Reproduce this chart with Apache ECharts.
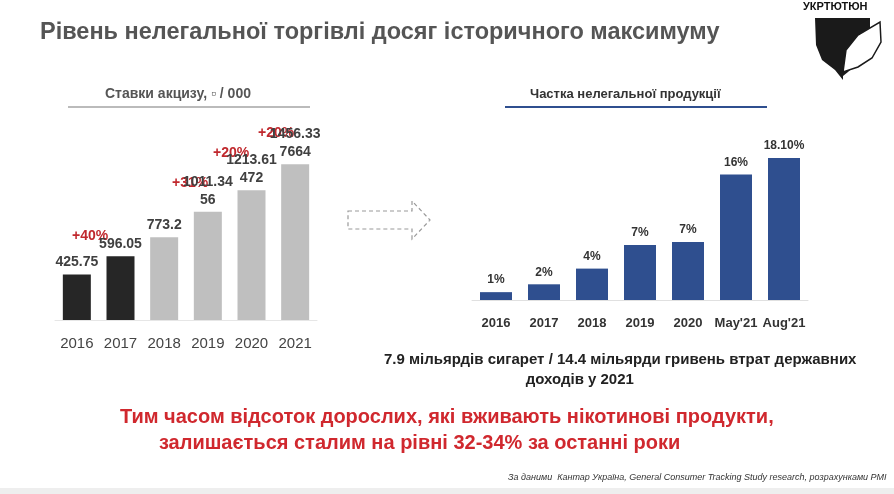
<!DOCTYPE html><html><head><meta charset="utf-8"><script src="https://cdn.jsdelivr.net/npm/echarts@6/dist/echarts.min.js"></script>
<style>html,body{margin:0;background:#fff}#c{width:894px;height:494px}</style></head><body><div id="c"></div><script>
const exciseYears=['2016','2017','2018','2019','2020','2021'];
const exciseValues=[425.75,596.05,773.2,1011.3456,1213.61472,1456.337664];
const exciseLabels=['425.75','596.05','773.2','1011.34\n56','1213.61\n472','1456.33\n7664'];
const growthLabels=['+40%','+31%','+20%','+20%'];
const shareCats=['2016','2017','2018','2019','2020',"May'21","Aug'21"];
const shareValues=[1,2,4,7,7.4,16,18.1];
const shareLabels=['1%','2%','4%','7%','7%','16%','18.10%'];
const ch=echarts.init(document.getElementById('c'));
const F='Liberation Sans, Arial, sans-serif';
function T(x,y,text,fill,font,lh){return {type:'text',x:x,y:y,style:{text:text,fill:fill,font:font,lineHeight:lh}};}
ch.setOption({
animation:false,
grid:[{left:55,width:262,top:159.5,height:160.5},{left:472,width:336,top:143,height:157}],
xAxis:[{gridIndex:0,type:'category',data:exciseYears,axisTick:{show:false},axisLine:{lineStyle:{color:'#e6e6e6'}},axisLabel:{color:'#444',fontSize:15,fontFamily:F,margin:16}},
{gridIndex:1,type:'category',data:shareCats,axisTick:{show:false},axisLine:{lineStyle:{color:'#e0e0e0'}},axisLabel:{interval:0,color:'#333',fontSize:13,fontWeight:'bold',fontFamily:F,margin:17}}],
yAxis:[{gridIndex:0,min:0,max:1500,show:false},{gridIndex:1,min:0,max:20,show:false}],
series:[{type:'bar',xAxisIndex:0,yAxisIndex:0,barWidth:28,
data:exciseValues.map((v,i)=>({value:v,itemStyle:{color:i<2?'#262626':'#bfbfbf'},label:{formatter:exciseLabels[i]}})),
label:{show:true,position:'top',color:'#404040',fontSize:14,fontWeight:'bold',fontFamily:F,lineHeight:18,distance:3}},
{type:'bar',xAxisIndex:1,yAxisIndex:1,barWidth:32,itemStyle:{color:'#2f4f8f'},
data:shareValues.map((v,i)=>({value:v,label:{formatter:shareLabels[i]}})),
label:{show:true,position:'top',color:'#333',fontSize:12,fontWeight:'bold',fontFamily:F,distance:6}}],
graphic:[
T(40,21,'Рівень нелегальної торгівлі досяг історичного максимуму','#555','bold 23.5px '+F),
T(105,87,'Ставки акцизу, ▫ / 000','#555','bold 14px '+F),
{type:'rect',shape:{x:68,y:106,width:242,height:2},style:{fill:'#bbb'}},
T(530,88,'Частка нелегальної продукції','#333','bold 13px '+F),
{type:'rect',shape:{x:505,y:106,width:262,height:2},style:{fill:'#2f4f8f'}},
T(72,229,growthLabels[0],'#c0282d','bold 14px '+F),
T(172,176,growthLabels[1],'#c0282d','bold 14px '+F),
T(213,146,growthLabels[2],'#c0282d','bold 14px '+F),
T(258,126,growthLabels[3],'#c0282d','bold 14px '+F),
{type:'polygon',shape:{points:[[348,211],[412,211],[412,201],[430,220],[412,239],[412,229],[348,229]]},style:{fill:'none',stroke:'#999',lineDash:[4,3],lineWidth:1.2}},
T(384,350,'7.9 мільярдів сигарет / 14.4 мільярди гривень втрат державних\n                                  доходів у 2021','#222','bold 15px '+F,20),
T(120,404,'Тим часом відсоток дорослих, які вживають нікотинові продукти,\n       залишається сталим на рівні 32-34% за останні роки','#d0282e','bold 20px '+F,26),
T(508,473,'За даними  Кантар Україна, General Consumer Tracking Study research, розрахунками PMI','#333','italic 9px '+F),
{type:'rect',shape:{x:0,y:488,width:894,height:6},style:{fill:'#eee'}},
T(803,1,'УКРТЮТЮН','#111','bold 11px '+F),
{type:'polygon',shape:{points:[[815,18],[870,18],[870,40],[862,58],[848,72],[843,76],[843,80],[835,70],[822,60],[816,45]]},style:{fill:'#1a1a1a'}},
{type:'polygon',shape:{points:[[843,72],[846,50],[858,35],[880,22],[881,42],[872,58],[858,67]]},style:{fill:'#fff',stroke:'#1a1a1a',lineWidth:1.5}}
]});
</script></body></html>
